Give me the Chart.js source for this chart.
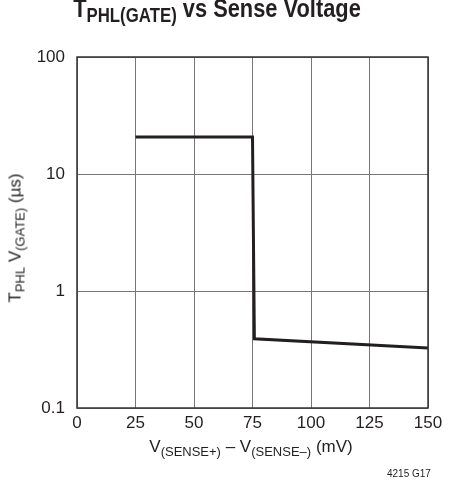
<!DOCTYPE html>
<html>
<head>
<meta charset="UTF-8">
<title>TPHL(GATE) vs Sense Voltage</title>
<script src="https://cdn.jsdelivr.net/npm/chart.js"></script>
<style>
    body { margin: 0; background: #fff; overflow: hidden; }
    .wrap { position: relative; width: 461px; height: 491px; font-family: 'Liberation Sans Narrow', 'Liberation Sans', Arial, sans-serif; color: #231f20; overflow: hidden; }
    canvas { position: absolute; left: 0; top: 0; }
    .title { position: absolute; left: 217px; top: -7px; transform: translateX(-50%) scaleX(0.84); font-weight: bold; font-size: 26px; line-height: 30px; white-space: nowrap; }
    .title sub { font-size: 20px; vertical-align: -5px; }
    .lbl { position: absolute; white-space: nowrap; font-size: 17px; line-height: 20px; }
    .lbl sub { font-size: 13px; vertical-align: -4px; }
    .ylabel { left: 18px; top: 238px; transform: translate(-50%, -50%) rotate(-90deg); }
    .xlabel { left: 251px; top: 437px; transform: translateX(-50%); }
    .code { position: absolute; left: 387px; top: 468px; font-size: 10px; }
</style>
</head>
<body>
<div class="wrap">
    <canvas id="c" width="461" height="491"></canvas>
    <div class="title">T<sub>PHL(GATE)</sub> vs Sense Voltage</div>
    <div class="lbl ylabel">T<sub>PHL</sub> V<sub>(GATE)</sub> (µs)</div>
    <div class="lbl xlabel">V<sub>(SENSE+)</sub> – V<sub>(SENSE–)</sub> (mV)</div>
    <div class="code">4215 G17</div>
</div>
<script>
    // mV, µs
    const senseMv = [25, 75, 75.8, 150];
    const tphlUs = [20.7, 20.7, 0.39, 0.325];
    const xTicks = [0, 25, 50, 75, 100, 125, 150];
    const yTicks = [0.1, 1, 10, 100];

    const font = { family: "'Liberation Sans Narrow', 'Liberation Sans', Arial, sans-serif", size: 17 };

    // dark frame around the plot
    const frame = {
        id: 'frame',
        afterDatasetsDraw(chart) {
            const a = chart.chartArea, c = chart.ctx;
            c.save();
            c.strokeStyle = '#333';
            c.lineWidth = 1.5;
            c.strokeRect(a.left, a.top, a.right - a.left, a.bottom - a.top);
            c.restore();
        }
    };

    new Chart(document.getElementById('c'), {
        type: 'scatter',
        data: {
            datasets: [{
                data: senseMv.map((x, i) => ({ x: x, y: tphlUs[i] })),
                showLine: true,
                borderColor: '#231f20',
                borderWidth: 3,
                pointRadius: 0,
                tension: 0
            }]
        },
        options: {
            responsive: false,
            animation: false,
            events: [],
            layout: { padding: { left: 0, right: 33, top: 57, bottom: 53 } },
            plugins: { legend: { display: false }, tooltip: { enabled: false } },
            scales: {
                x: {
                    type: 'linear', min: 0, max: 150,
                    afterBuildTicks: s => { s.ticks = xTicks.map(v => ({ value: v })); },
                    afterFit: s => { s.height = 30; },
                    grid: { color: '#777', lineWidth: 1, drawTicks: false },
                    border: { display: false },
                    ticks: { color: '#231f20', font: font, padding: 5, maxRotation: 0 }
                },
                y: {
                    type: 'logarithmic', min: 0.1, max: 100,
                    afterBuildTicks: s => { s.ticks = yTicks.map(v => ({ value: v })); },
                    afterFit: s => { s.width = 77; },
                    grid: { color: '#777', lineWidth: 1, drawTicks: false },
                    border: { display: false },
                    ticks: { color: '#231f20', font: font, padding: 12, callback: v => String(v) }
                }
            }
        },
        plugins: [frame]
    });
</script>
</body>
</html>
